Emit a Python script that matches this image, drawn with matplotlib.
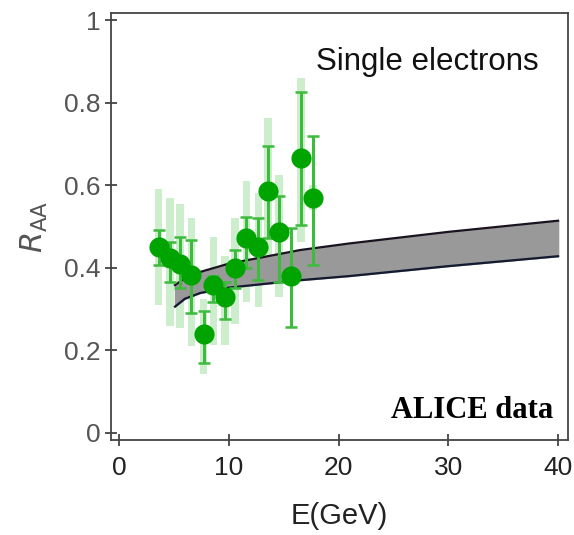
import numpy as np
import matplotlib
matplotlib.use("Agg")
import matplotlib.pyplot as plt

# ALICE single electron R_AA data
energy = [3.6, 4.65, 5.55, 6.6, 7.7, 8.6, 9.65, 10.55, 11.6, 12.7, 13.6, 14.6, 15.65, 16.6, 17.65]
raa = [0.451, 0.423, 0.410, 0.382, 0.239, 0.358, 0.330, 0.399, 0.471, 0.451, 0.587, 0.487, 0.380, 0.667, 0.568]
stat_hi = [0.492, 0.462, 0.474, 0.467, 0.295, 0.380, 0.366, 0.443, 0.524, 0.520, 0.695, 0.574, 0.496, 0.826, 0.719]
stat_lo = [0.407, 0.366, 0.350, 0.290, 0.170, 0.318, 0.275, 0.350, 0.400, 0.370, 0.471, 0.366, 0.257, 0.504, 0.407]
sys_hi = [0.590, 0.570, 0.554, 0.520, 0.324, 0.474, 0.429, 0.520, 0.611, 0.580, 0.762, 0.625, 0.400, 0.859, 0.600]
sys_lo = [0.310, 0.259, 0.253, 0.210, 0.143, 0.213, 0.213, 0.264, 0.316, 0.304, 0.403, 0.330, 0.360, 0.463, 0.540]

# theory band
band_e = [5.1, 6.0, 7.4, 10, 16.5, 21, 30, 40]
band_hi = [0.358, 0.375, 0.390, 0.410, 0.443, 0.459, 0.487, 0.514]
band_lo = [0.306, 0.325, 0.339, 0.352, 0.370, 0.380, 0.404, 0.428]

plt.rcParams["mathtext.default"] = "regular"

fig = plt.figure(figsize=(5.74, 5.35), dpi=100)
ax = fig.add_axes([0.1934, 0.1776, 0.7961, 0.7981])

# systematic boxes
e = np.array(energy)
ax.bar(e, np.array(sys_hi) - np.array(sys_lo), bottom=sys_lo, width=0.7,
       color="#cdeecd", edgecolor="none", zorder=1)

# band
ax.fill_between(band_e, band_lo, band_hi, color="#999999", zorder=2)
ax.plot(band_e, band_hi, color="#1a1420", lw=1.6, zorder=3)
ax.plot(band_e, band_lo, color="#141a30", lw=1.6, zorder=3)

# statistical error bars + points
r = np.array(raa)
yerr = [r - np.array(stat_lo), np.array(stat_hi) - r]
ax.errorbar(e, r, yerr=yerr, fmt="none", ecolor="#3cbb3c", elinewidth=2.2,
            capsize=4, capthick=1.8, zorder=4)
ax.plot(e, r, "o", color="#00a400", ms=14.5, mec="none", zorder=5)

ax.set_xlim(-0.73, 40.9)
ax.set_ylim(-0.017, 1.017)
ax.set_xticks([0, 10, 20, 30, 40])
ax.set_yticks([0, 0.2, 0.4, 0.6, 0.8, 1])
ax.set_yticklabels(["0", "0.2", "0.4", "0.6", "0.8", "1"])

for s in ax.spines.values():
    s.set_color("#444444")
    s.set_linewidth(1.3)
ax.tick_params(direction="inout", length=9, width=1.3, color="#444444")
ax.tick_params(axis="x", labelsize=19, labelcolor="#222222", pad=7)
ax.tick_params(axis="y", labelsize=19, labelcolor="#555555", pad=3)
for lab in ax.get_xticklabels() + ax.get_yticklabels():
    lab.set_family("Liberation Sans")

ax.set_xlabel("E(GeV)", fontsize=21, family="Liberation Sans", color="#222222", labelpad=16)
ax.set_ylabel(r"$\mathit{R}_{AA}$", fontsize=22, color="#555555", labelpad=10)

ax.text(0.935, 0.885, "Single electrons", transform=ax.transAxes, ha="right", va="center",
        fontsize=22.5, family="Liberation Sans", color="#111111")
ax.text(0.967, 0.070, "ALICE data", transform=ax.transAxes, ha="right", va="center",
        fontsize=22, family="Liberation Serif", weight="bold", color="black")

fig.savefig("out.png", dpi=100)
